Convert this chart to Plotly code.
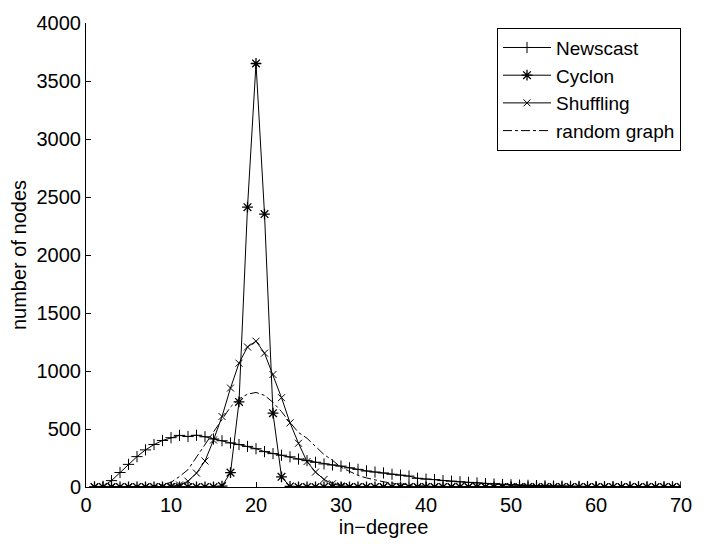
import plotly.graph_objects as go

# in-degree values 1..70
in_degree = list(range(1, 71))

newscast = [0, 5, 55, 125, 195, 262, 320, 366, 401, 425,
            445, 435, 446, 433, 414, 399, 380, 366, 350, 330,
            305, 288, 274, 260, 241, 227, 213, 199, 190, 180,
            165, 152, 138, 129, 121, 110, 102, 94, 75, 68,
            64, 55, 50, 45, 40, 35, 30, 26, 22, 19,
            16, 14, 12, 10, 8, 7, 6, 5, 4, 3,
            3, 2, 2, 1, 1, 1, 1, 0, 0, 0]

cyclon = [0] * 15 + [8, 124, 733, 2412, 3651, 2353, 636, 88, 5] + [0] * 46

shuffling = [0] * 9 + [5, 18, 50, 120, 224, 405, 608, 853, 1067, 1207, 1257,
                       1154, 970, 770, 553, 377, 219, 129, 65, 28, 10, 4, 1] + [0] * 38

random_graph = [0, 0, 0, 0, 0, 0, 3, 8, 20, 40,
                90, 150, 260, 370, 480, 590, 690, 760, 800, 815,
                790, 730, 650, 555, 470, 420, 350, 280, 230, 170,
                135, 100, 78, 60, 45, 33, 24, 17, 12, 8,
                5, 3, 2, 1] + [0] * 26

x_ticks = [0, 10, 20, 30, 40, 50, 60, 70]
y_ticks = [0, 500, 1000, 1500, 2000, 2500, 3000, 3500, 4000]

FONT = "Liberation Sans, Arial, Helvetica, sans-serif"
BLACK = "#000000"

fig = go.Figure()

fig.add_trace(go.Scatter(
    x=in_degree, y=newscast, name="Newscast", mode="lines+markers",
    line=dict(color=BLACK, width=1),
    marker=dict(symbol="cross-thin", size=8, color=BLACK,
                line=dict(color=BLACK, width=1)),
))
fig.add_trace(go.Scatter(
    x=in_degree, y=cyclon, name="Cyclon", mode="lines+markers",
    line=dict(color=BLACK, width=1),
    marker=dict(symbol="asterisk", size=9, color=BLACK,
                line=dict(color=BLACK, width=1.3)),
))
fig.add_trace(go.Scatter(
    x=in_degree, y=shuffling, name="Shuffling", mode="lines+markers",
    line=dict(color=BLACK, width=1),
    marker=dict(symbol="x-thin", size=7, color=BLACK,
                line=dict(color=BLACK, width=1)),
))
fig.add_trace(go.Scatter(
    x=in_degree, y=random_graph, name="random graph", mode="lines",
    line=dict(color=BLACK, width=1, dash="dashdot"),
))

fig.update_layout(
    width=704, height=544,
    margin=dict(l=86, r=13, t=17, b=48),
    paper_bgcolor="white", plot_bgcolor="white",
    font=dict(family=FONT, size=20, color=BLACK),
    showlegend=True,
    legend=dict(
        x=1.0, y=0.99, xanchor="right", yanchor="top",
        bgcolor="white", bordercolor=BLACK, borderwidth=1,
        font=dict(family=FONT, size=19, color=BLACK),
        tracegroupgap=0, itemwidth=48,
    ),
)

fig.update_xaxes(
    range=[0, 70], tickvals=x_ticks, ticktext=[str(v) for v in x_ticks],
    showline=True, linecolor=BLACK, linewidth=1, mirror=False,
    ticks="inside", ticklen=5, tickcolor=BLACK,
    showgrid=False, zeroline=False,
    title=dict(text="in\u2212degree", standoff=2, font=dict(size=20)),
    tickfont=dict(size=20),
)
fig.update_yaxes(
    range=[0, 4000], tickvals=y_ticks, ticktext=[str(v) for v in y_ticks],
    showline=True, linecolor=BLACK, linewidth=1, mirror=False,
    ticks="inside", ticklen=5, tickcolor=BLACK,
    showgrid=False, zeroline=False,
    title=dict(text="number of nodes", standoff=4, font=dict(size=20)),
    tickfont=dict(size=20),
)

fig.write_html("out.html")
